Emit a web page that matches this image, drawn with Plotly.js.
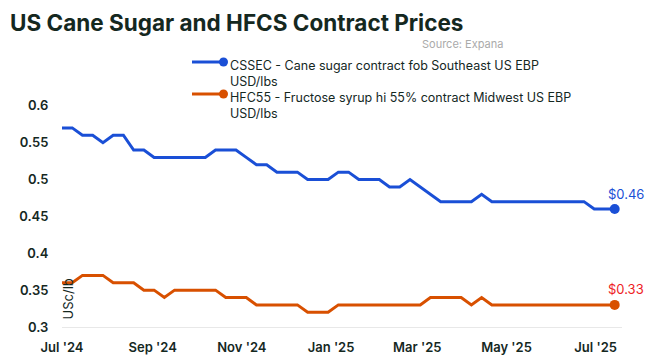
<!DOCTYPE html>
<html>
<head>
<meta charset="utf-8">
<script src="https://cdn.plot.ly/plotly-3.0.1.min.js"></script>
<style>html,body{margin:0;padding:0;background:#fff}#chart{width:654px;height:362px}</style>
</head>
<body>
<div id="chart"></div>
<script>
const dates = [
 '2024-07-01','2024-07-08','2024-07-15','2024-07-22','2024-07-29',
 '2024-08-05','2024-08-12','2024-08-19','2024-08-26',
 '2024-09-02','2024-09-09','2024-09-16','2024-09-23','2024-09-30',
 '2024-10-07','2024-10-14','2024-10-21','2024-10-28',
 '2024-11-04','2024-11-11','2024-11-18','2024-11-25',
 '2024-12-02','2024-12-09','2024-12-16','2024-12-23','2024-12-30',
 '2025-01-06','2025-01-13','2025-01-20','2025-01-27',
 '2025-02-03','2025-02-10','2025-02-17','2025-02-24',
 '2025-03-03','2025-03-10','2025-03-17','2025-03-24','2025-03-31',
 '2025-04-07','2025-04-14','2025-04-21','2025-04-28',
 '2025-05-05','2025-05-12','2025-05-19','2025-05-26',
 '2025-06-02','2025-06-09','2025-06-16','2025-06-23','2025-06-30',
 '2025-07-07','2025-07-14'
];
const cssec = [
 0.57,0.57,0.56,0.56,0.55,0.56,0.56,0.54,0.54,
 0.53,0.53,0.53,0.53,0.53,0.53,0.54,0.54,0.54,
 0.53,0.52,0.52,0.51,0.51,0.51,0.50,0.50,0.50,
 0.51,0.51,0.50,0.50,0.50,0.49,0.49,0.50,0.49,
 0.48,0.47,0.47,0.47,0.47,0.48,0.47,0.47,0.47,
 0.47,0.47,0.47,0.47,0.47,0.47,0.47,0.46,0.46,0.46
];
const hfc55 = [
 0.36,0.36,0.37,0.37,0.37,0.36,0.36,0.36,0.35,
 0.35,0.34,0.35,0.35,0.35,0.35,0.35,0.34,0.34,
 0.34,0.33,0.33,0.33,0.33,0.33,0.32,0.32,0.32,
 0.33,0.33,0.33,0.33,0.33,0.33,0.33,0.33,0.33,
 0.34,0.34,0.34,0.34,0.33,0.34,0.33,0.33,0.33,
 0.33,0.33,0.33,0.33,0.33,0.33,0.33,0.33,0.33,0.33
];
const seriesNames = [
 'CSSEC - Cane sugar contract fob Southeast US EBP<br>USD/lbs',
 'HFC55 - Fructose syrup hi 55% contract Midwest US EBP<br>USD/lbs'
];
const titleText = 'US Cane Sugar and HFCS Contract Prices';
const sourceText = 'Source: Expana';
const yTitle = 'USc/lb';

const BLUE = '#1a4fd6';
const ORANGE = '#d85000';
const RED = '#ee1c25';
const DARK = '#15281f';
const FONT = 'Inter, "Open Sans", sans-serif';

const last = dates.length - 1;
const traces = [
 {x: dates, y: cssec, type: 'scatter', mode: 'lines', line: {color: BLUE, width: 3}, name: seriesNames[0]},
 {x: dates, y: hfc55, type: 'scatter', mode: 'lines', line: {color: ORANGE, width: 3}, name: seriesNames[1]},
 {x: [dates[last]], y: [cssec[last]], type: 'scatter', mode: 'markers', marker: {color: BLUE, size: 10}, showlegend: false},
 {x: [dates[last]], y: [hfc55[last]], type: 'scatter', mode: 'markers', marker: {color: ORANGE, size: 10}, showlegend: false}
];

const W = 654, H = 362;
const M = {l: 62, r: 32, t: 91, b: 35};
const pw = W - M.l - M.r, ph = H - M.t - M.b;
const px = v => (v - M.l) / pw;
const py = v => (H - M.b - v) / ph;

const legendRows = [
 {color: BLUE, y: 62, text: seriesNames[0]},
 {color: ORANGE, y: 94, text: seriesNames[1]}
];

const layout = {
  width: W, height: H,
  margin: M,
  paper_bgcolor: '#fff', plot_bgcolor: '#fff',
  font: {family: FONT, color: DARK, size: 13},
  showlegend: false,
  title: {text: '<b>' + titleText + '</b>', font: {family: FONT, size: 22.5, color: DARK}, xref: 'container', yref: 'container', x: 10 / W, xanchor: 'left', y: 1 - 23 / H, yanchor: 'middle'},
  xaxis: {
    type: 'date', range: ['2024-07-01', '2025-07-19'],
    tick0: '2024-07-01', dtick: 'M2', tickformat: "%b '%y",
    showgrid: false, zeroline: false, showline: true, linecolor: '#e8e8e8', linewidth: 1,
    ticks: 'outside', ticklen: 8, tickcolor: 'rgba(0,0,0,0)',
    tickfont: {family: FONT, size: 13, color: DARK, weight: 600}
  },
  yaxis: {
    range: [0.3, 0.62], tickvals: [0.3, 0.35, 0.4, 0.45, 0.5, 0.55, 0.6],
    showgrid: false, zeroline: false, showline: false,
    ticks: 'outside', ticklen: 10, tickcolor: 'rgba(0,0,0,0)',
    tickfont: {family: FONT, size: 13, color: DARK, weight: 600}
  },
  shapes: [], annotations: []
};

const ann = layout.annotations;
const shp = layout.shapes;
// source
ann.push({text: sourceText, xref: 'paper', yref: 'paper', x: px(505), xanchor: 'right', y: py(44), yanchor: 'middle', showarrow: false, font: {family: FONT, size: 11, color: '#aaaaaa'}});
// legend drawn as line + end marker + two-line text
legendRows.forEach(r => {
  shp.push({type: 'line', xref: 'paper', yref: 'paper', x0: px(192), x1: px(223), y0: py(r.y), y1: py(r.y), line: {color: r.color, width: 3}});
  shp.push({type: 'circle', xref: 'paper', yref: 'paper', x0: px(219), x1: px(228), y0: py(r.y - 4.5), y1: py(r.y + 4.5), fillcolor: r.color, line: {width: 0}});
  ann.push({text: r.text, xref: 'paper', yref: 'paper', x: px(228), xanchor: 'left', y: py(r.y - 6), yanchor: 'top', align: 'left', showarrow: false, font: {family: FONT, size: 12.5, color: DARK}});
});
// y axis title
ann.push({text: yTitle, xref: 'paper', yref: 'y', x: px(57), xanchor: 'left', y: 0.3, yanchor: 'bottom', yshift: 5, textangle: -90, showarrow: false, font: {family: FONT, size: 13, color: DARK}});
// end labels
ann.push({text: '$' + cssec[last].toFixed(2), x: dates[last], y: cssec[last], xref: 'x', yref: 'y', showarrow: false, xshift: 11, yshift: 15, font: {family: FONT, size: 13, color: BLUE}});
ann.push({text: '$' + hfc55[last].toFixed(2), x: dates[last], y: hfc55[last], xref: 'x', yref: 'y', showarrow: false, xshift: 11, yshift: 16, font: {family: FONT, size: 13, color: RED}});

Plotly.newPlot('chart', traces, layout, {displayModeBar: false, staticPlot: true});
</script>
</body>
</html>
